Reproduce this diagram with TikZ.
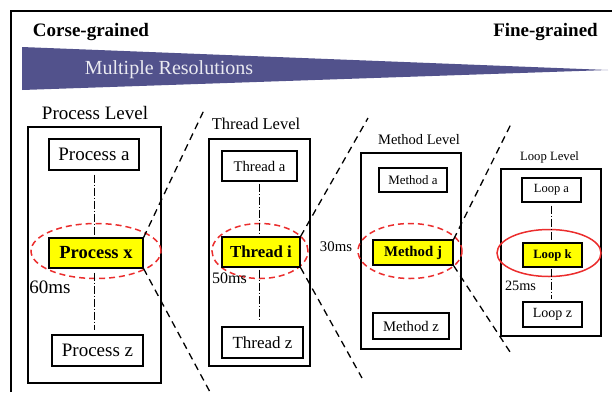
\documentclass[tikz,border=0pt]{standalone}
\usepackage{fontspec}
\setmainfont{Liberation Serif}
\usetikzlibrary{shapes.geometric, positioning, calc}
\definecolor{wedgeblue}{RGB}{82,82,140}
\definecolor{ringred}{RGB}{235,45,45}
\definecolor{hotyellow}{RGB}{255,255,0}
\newcommand{\fsz}[1]{\fontsize{#1}{#1}\selectfont}
\tikzset{
  levelframe/.style={draw, line width=1.3pt, inner sep=0pt},
  item/.style={draw, line width=1.2pt, inner sep=0pt, fill=white},
  hotitem/.style={item, fill=hotyellow},
  ring/.style={ellipse, draw=ringred, line width=1.5pt,
               dash pattern=on 6pt off 4pt, inner sep=0pt},
  solidring/.style={ring, solid},
  zoomline/.style={line width=1.3pt, dash pattern=on 7pt off 5pt},
  chain/.style={line width=0.6pt, dash pattern=on 8pt off 2pt on 1pt off 2pt},
}

\begin{document}
\begin{tikzpicture}[x=1pt, y=-1pt]
  \useasboundingbox (0,0) rectangle (612,392);
  \draw[line width=2pt] (11,392) -- (11,11) -- (612,11);

  % resolution wedge
  \node[font=\bfseries\fsz{19}] (coarse) at (91,32)    {Corse-grained};
  \node[font=\bfseries\fsz{19}] (fine)   at (545.5,32) {Fine-grained};
  \fill[wedgeblue] (22,47) -- (608,70) -- (22,90) -- cycle;
  \node[text=white!88!wedgeblue, font=\fsz{20}] (multi) at (169,70) {Multiple Resolutions};

  % level frames
  \node[levelframe, minimum width=133pt, minimum height=256pt] (pframe) at (94.5,255)  {};
  \node[levelframe, minimum width=101pt, minimum height=227pt] (tframe) at (259.5,252.5) {};
  \node[levelframe, minimum width=100pt, minimum height=196pt] (mframe) at (411,251)   {};
  \node[levelframe, minimum width=100pt, minimum height=167pt] (lframe) at (551,252.5) {};

  \node[font=\fsz{19}]   (ptitle) at (95,113)    {Process Level};
  \node[font=\fsz{16.5}] (ttitle) at (256,124)   {Thread Level};
  \node[font=\fsz{14.5}] (mtitle) at (419,140)   {Method Level};
  \node[font=\fsz{12.7}] (ltitle) at (549.5,157) {Loop Level};

  % focus rings
  \node[ring, minimum width=130pt, minimum height=55pt] (pring) at (96,251)  {};
  \node[ring, minimum width=96pt,  minimum height=55pt] (tring) at (260,251) {};
  \node[ring, minimum width=104pt, minimum height=55pt] (mring) at (410,251) {};
  \node[solidring, minimum width=104pt, minimum height=47pt] (lring) at (549,253) {};

  % process level
  \node[item, minimum width=90pt, minimum height=31pt, font=\fsz{19}]    (pa) at (94,154.5)  {Process a};
  \node[hotitem, minimum width=94pt, minimum height=30pt, font=\bfseries\fsz{18.5}] (px) at (96,253) {Process x};
  \node[item, minimum width=91pt, minimum height=31pt, font=\fsz{19}]    (pz) at (97.5,350.5) {Process z};

  % thread level
  \node[item, minimum width=75pt, minimum height=30pt, font=\fsz{14.7}]  (ta) at (259.5,166)  {Thread a};
  \node[hotitem, minimum width=78pt, minimum height=30pt, font=\bfseries\fsz{16.8}] (ti) at (261,252) {Thread i};
  \node[item, minimum width=81pt, minimum height=31pt, font=\fsz{17}]    (tz) at (262.5,342.5) {Thread z};

  % method level
  \node[item, minimum width=68pt, minimum height=24pt, font=\fsz{12.9}]  (ma) at (413,180)   {Method a};
  \node[hotitem, minimum width=80pt, minimum height=25pt, font=\bfseries\fsz{14.8}] (mj) at (413,252.5) {Method j};
  \node[item, minimum width=76pt, minimum height=26pt, font=\fsz{14.7}]  (mz) at (411,326)   {Method z};

  % loop level
  \node[item, minimum width=59pt, minimum height=24pt, font=\fsz{12.5}]  (la) at (551.5,190)  {Loop a};
  \node[hotitem, minimum width=59pt, minimum height=24pt, font=\bfseries\fsz{12.7}] (lk) at (552.5,255) {Loop k};
  \node[item, minimum width=59pt, minimum height=25pt, font=\fsz{14}]    (lz) at (552.5,314.5) {Loop z};

  % timings
  \node[font=\fsz{19}]   (pms) at (50,287)    {60ms};
  \node[font=\fsz{16}]   (tms) at (229.5,278) {50ms};
  \node[font=\fsz{14.8}] (mms) at (336,247)   {30ms};
  \node[font=\fsz{14.3}] (lms) at (520.5,286) {25ms};

  % chains between items
  \draw[chain, shorten <=4pt] (pa.south) -- (pa.south |- px.north);
  \draw[chain, shorten <=4pt, shorten >=4pt] (pa.south |- px.south) -- (pa.south |- pz.north);
  \draw[chain, shorten <=2pt, shorten >=2pt] (ta.south) -- (ta.south |- ti.north);
  \draw[chain, shorten <=2pt, shorten >=6pt] (ta.south |- ti.south) -- (ta.south |- tz.north);
  \draw[chain, shorten <=3pt, shorten >=1pt] (la.south) -- (la.south |- lk.north);
  \draw[chain, shorten <=1pt, shorten >=2pt] (la.south |- lk.south) -- (la.south |- lz.north);

  % zoom lines to the next level
  \coordinate (pup) at (205,108);
  \coordinate (pdn) at (210,392);
  \coordinate (tup) at (368,118);
  \coordinate (tdn) at (362,378);
  \coordinate (mup) at (511,124);
  \coordinate (mdn) at (512,355);
  \draw[zoomline] (px.north east) -- (pup);
  \draw[zoomline] (px.south east) -- (pdn);
  \draw[zoomline] (ti.north east) -- (tup);
  \draw[zoomline] (ti.south east) -- (tdn);
  \draw[zoomline] (mj.north east) -- (mup);
  \draw[zoomline] (mj.south east) -- (mdn);
\end{tikzpicture}
\end{document}
